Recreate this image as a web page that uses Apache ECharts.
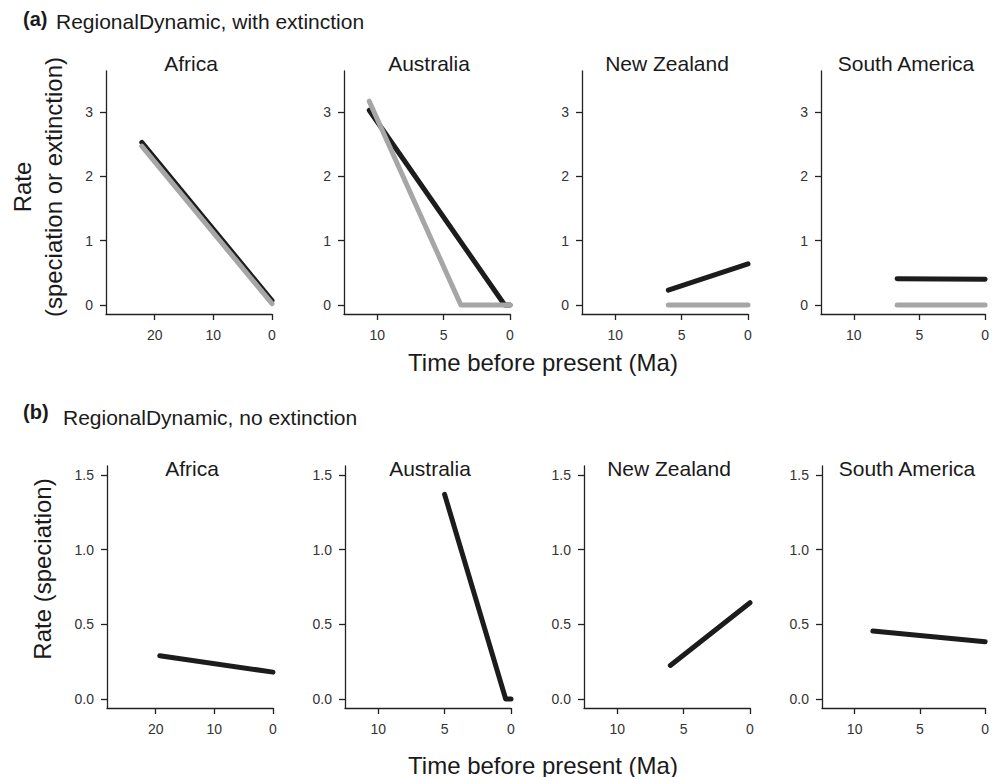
<!DOCTYPE html>
<html>
<head>
<meta charset="utf-8">
<script src="https://cdn.jsdelivr.net/npm/echarts@6/dist/echarts.min.js"></script>
<style>
html,body{margin:0;padding:0;background:#fff;}
#chart{width:992px;height:777px;}
</style>
</head>
<body>
<div id="chart"></div>
<script>
// ---- data ----
const regions = ['Africa', 'Australia', 'New Zealand', 'South America'];
const xMaxByRegion = [28.3, 12.5, 12.5, 12.5];
const xTicksAfrica = [0, 10, 20];
const xTicksOther = [0, 5, 10];
const yTicksA = [0, 1, 2, 3];
const yTicksB = [0, 0.5, 1.0, 1.5];
const yRangeA = [-0.14, 3.64];
const yRangeB = [-0.06, 1.56];

// panel (a): speciation (black) and extinction (grey)
const specA_Africa = [[22.2, 2.53], [0, 0.07]];
const extA_Africa = [[22.2, 2.47], [0, 0.02]];
const specA_Australia = [[10.6, 3.03], [0.4, 0.0], [0, 0.0]];
const extA_Australia = [[10.6, 3.17], [3.7, 0.0], [0, 0.0]];
const specA_NewZealand = [[6.0, 0.23], [0, 0.64]];
const extA_NewZealand = [[6.0, 0.0], [0, 0.0]];
const specA_SouthAmerica = [[6.7, 0.41], [0, 0.40]];
const extA_SouthAmerica = [[6.7, 0.0], [0, 0.0]];

// panel (b): speciation only
const specB_Africa = [[19.3, 0.29], [0, 0.18]];
const specB_Australia = [[5.0, 1.37], [0.4, 0.0], [0, 0.0]];
const specB_NewZealand = [[6.0, 0.225], [0, 0.645]];
const specB_SouthAmerica = [[8.6, 0.455], [0, 0.383]];

const specA = [specA_Africa, specA_Australia, specA_NewZealand, specA_SouthAmerica];
const extA = [extA_Africa, extA_Australia, extA_NewZealand, extA_SouthAmerica];
const specB = [specB_Africa, specB_Australia, specB_NewZealand, specB_SouthAmerica];

// ---- layout ----
const FONT = 'Liberation Sans, Arial, Helvetica, sans-serif';
const AX = '#222';
const BLACK = '#1c1c1c';
const GREY = '#a6a6a6';
const gridLeftsA = [106, 344, 582, 821];
const gridLeftsB = [107, 345, 584, 822];
const gridW = 166;
const rowA = {top: 71, height: 243};
const rowB = {top: 466, height: 242};

const grids = [], xAxes = [], yAxes = [], series = [], graphics = [];

function addPanel(idx, left, row, regionIdx, yRange, yTicks, yFmt) {
  grids.push({left: left, top: row.top, width: gridW, height: row.height, containLabel: false});
  const xt = regionIdx === 0 ? xTicksAfrica : xTicksOther;
  xAxes.push({
    type: 'value', gridIndex: idx, inverse: true, min: 0, max: xMaxByRegion[regionIdx],
    axisLine: {show: true, onZero: false, lineStyle: {color: AX, width: 1.3}},
    axisTick: {show: true, length: 6, customValues: xt, lineStyle: {color: AX, width: 1.3}},
    axisLabel: {show: true, customValues: xt, margin: 14, color: '#333', fontSize: 14, fontFamily: FONT},
    splitLine: {show: false}
  });
  yAxes.push({
    type: 'value', gridIndex: idx, min: yRange[0], max: yRange[1],
    axisLine: {show: true, onZero: false, lineStyle: {color: AX, width: 1.3}},
    axisTick: {show: true, length: 6, customValues: yTicks, lineStyle: {color: AX, width: 1.3}},
    axisLabel: {show: true, customValues: yTicks, margin: 13, color: '#333', fontSize: 14, fontFamily: FONT,
      formatter: yFmt},
    splitLine: {show: false}
  });
}

function lineSeries(idx, data, color, z) {
  return {
    type: 'line', xAxisIndex: idx, yAxisIndex: idx, data: data, symbol: 'none', clip: false,
    silent: true, animation: false, z: z,
    lineStyle: {color: color, width: 5, cap: 'round', join: 'round'}
  };
}

for (let i = 0; i < 4; i++) {
  addPanel(i, gridLeftsA[i], rowA, i, yRangeA, yTicksA, v => String(Math.round(v)));
  series.push(lineSeries(i, specA[i], BLACK, 2));
  series.push(lineSeries(i, extA[i], GREY, 3));
}
for (let i = 0; i < 4; i++) {
  const idx = 4 + i;
  addPanel(idx, gridLeftsB[i], rowB, i, yRangeB, yTicksB, v => v.toFixed(1));
  series.push(lineSeries(idx, specB[i], BLACK, 2));
}

function txt(text, x, y, size, opts) {
  opts = opts || {};
  return {
    type: 'text', x: x, y: y, rotation: opts.rotation || 0, silent: true,
    style: {
      text: text, fill: opts.fill || '#1a1a1a', fontSize: size, fontFamily: FONT,
      fontWeight: opts.bold ? 'bold' : 'normal',
      textAlign: opts.align || 'center', textVerticalAlign: 'middle',
      align: opts.align || 'center', verticalAlign: 'middle'
    }
  };
}

// panel titles
for (let i = 0; i < 4; i++) {
  graphics.push(txt(regions[i], gridLeftsA[i] + gridW / 2 + 2, 63, 21));
  graphics.push(txt(regions[i], gridLeftsB[i] + gridW / 2 + 2, 468, 21));
}
// section headings
graphics.push(txt('(a)', 23, 19, 20, {bold: true, align: 'left'}));
graphics.push(txt('RegionalDynamic, with extinction', 56, 21, 21, {align: 'left'}));
graphics.push(txt('(b)', 23, 412, 20, {bold: true, align: 'left'}));
graphics.push(txt('RegionalDynamic, no extinction', 63, 417, 21, {align: 'left'}));
// axis titles
graphics.push(txt('Rate', 22, 187, 24, {rotation: Math.PI / 2}));
graphics.push(txt('(speciation or extinction)', 53, 187, 24, {rotation: Math.PI / 2}));
graphics.push(txt('Rate (speciation)', 42, 569, 24, {rotation: Math.PI / 2}));
graphics.push(txt('Time before present (Ma)', 543, 362, 24));
graphics.push(txt('Time before present (Ma)', 543, 765, 24));

const chart = echarts.init(document.getElementById('chart'), null, {renderer: 'svg', width: 992, height: 777});
chart.setOption({
  backgroundColor: '#ffffff',
  animation: false,
  grid: grids,
  xAxis: xAxes,
  yAxis: yAxes,
  series: series,
  graphic: {elements: graphics}
});
</script>
</body>
</html>
